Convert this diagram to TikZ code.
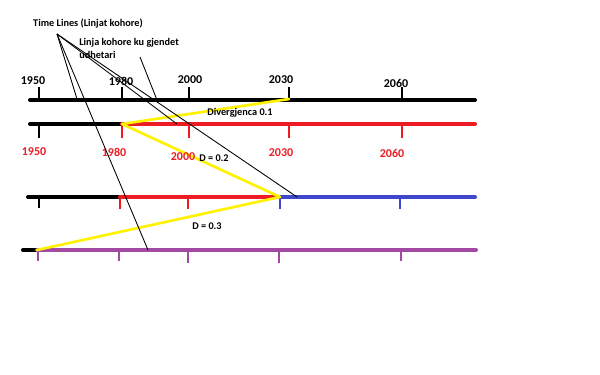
\documentclass[tikz,border=0pt]{standalone}
\usepackage{fontspec}
\setmainfont{Carlito}
\definecolor{pred}{RGB}{237,28,36}
\definecolor{pblue}{RGB}{63,72,204}
\definecolor{ppurple}{RGB}{163,73,164}
\definecolor{pyellow}{RGB}{255,242,0}
\begin{document}
\begin{tikzpicture}[x=0.75pt,y=-0.75pt,
  mainline/.style={line width=3pt,line cap=round},
  tick/.style={line width=2pt},
  yel/.style={pyellow,line width=2pt,line cap=round},
  thin/.style={line width=0.65pt},
  year/.style={font=\bfseries\fontsize{9}{10}\selectfont,inner sep=0pt},
  lbl/.style={font=\bfseries\fontsize{7.7}{10}\selectfont,inner sep=0pt}]
\useasboundingbox[fill=white] (0,0) rectangle (600,375);

% coordinates of the lines
\coordinate (l1s) at (30,100); \coordinate (l1e) at (475,100);
\coordinate (l2s) at (30,124); \coordinate (l2m) at (122,124); \coordinate (l2e) at (475,124);
\coordinate (l3s) at (28,197); \coordinate (l3m) at (120,197); \coordinate (l3b) at (280,197); \coordinate (l3e) at (475,197);
\coordinate (l4s) at (23,250); \coordinate (l4m) at (37,250); \coordinate (l4e) at (476,250);

% timelines
\draw[mainline] (l1s) -- (l1e);
\draw[mainline] (l2s) -- (l2m);
\draw[mainline,pred] (l2m) -- (l2e);
\draw[mainline] (l3s) -- (l3m);
\draw[mainline,pred] (l3m) -- (l3b);
\draw[mainline,pblue] (l3b) -- (l3e);
\draw[mainline] (l4s) -- (l4m);
\draw[mainline,ppurple] (l4m) -- (l4e);

% ticks line 1 (up)
\foreach \x/\n in {39/a,122/b,189/c,289/d,402/e}{
  \coordinate (t1\n) at (\x,100); \coordinate (t1\n u) at (\x,87);
  \draw[tick] (t1\n) -- (t1\n u);}
% ticks line 2 (down)
\coordinate (t2a) at (39,124); \coordinate (t2ad) at (39,138);
\draw[tick] (t2a) -- (t2ad);
\foreach \x/\n in {122/b,189/c,289/d,402/e}{
  \coordinate (t2\n) at (\x,124); \coordinate (t2\n d) at (\x,138);
  \draw[tick,pred] (t2\n) -- (t2\n d);}
% ticks line 3
\coordinate (t3a) at (39,197); \coordinate (t3ad) at (39,208);
\draw[tick] (t3a) -- (t3ad);
\foreach \x/\n/\c in {120/b/pred,188/c/pred,280/d/pblue,400/e/pblue}{
  \coordinate (t3\n) at (\x,197); \coordinate (t3\n d) at (\x,209);
  \draw[tick,\c] (t3\n) -- (t3\n d);}
% ticks line 4
\foreach \x/\n/\l in {38/a/261,119/b/261,188/c/263,279/d/263,401/e/261}{
  \coordinate (t4\n) at (\x,250); \coordinate (t4\n d) at (\x,\l);
  \draw[tick,ppurple] (t4\n) -- (t4\n d);}

% yellow divergence lines
\coordinate (y1e) at (289,99);
\coordinate (apex) at (280,197);
\coordinate (y3e) at (37,250);
\draw[yel] (l2m) -- (y1e);
\draw[yel] (l2m) -- (apex);
\draw[yel] (apex) -- (y3e);

% labels black years
\node[year] (k1950) at (33,81) {1950};
\node[year] (k1980) at (121,81) {1980};
\node[year] (k2000) at (190,80) {2000};
\node[year] (k2030) at (281,80) {2030};
\node[year] (k2060) at (396,83) {2060};
% red years
\node[year,pred] (r1950) at (34,152) {1950};
\node[year,pred] (r1980) at (114,152) {1980};
\node[year,pred] (r2000) at (183,157) {2000};
\node[year,pred] (r2030) at (281,153) {2030};
\node[year,pred] (r2060) at (392,153) {2060};

\node[lbl] (div) at (240,113) {Divergjenca 0.1};
\node[lbl] (d2) at (214,158) {D = 0.2};
\node[lbl] (d3) at (207,226) {D = 0.3};

\node[lbl] (tl) at (88,24) {Time Lines (Linjat kohore)};
\node[lbl,anchor=north west,align=left] (lk) at (79,38) {Linja kohore ku gjendet\\udhetari};

% pointer lines
\coordinate (o) at (57,34);
\coordinate (a1) at (77,99);
\coordinate (a2) at (177,124);
\coordinate (a3) at (297,197);
\coordinate (a4) at (148,250);
\draw[thin] (o) -- (a1);
\draw[thin] (o) -- (a2);
\draw[thin] (o) -- (a3);
\draw[thin] (o) -- (a4);
\coordinate (p1) at (140,57);
\coordinate (p2) at (157,100);
\draw[thin] (p1) -- (p2);
\end{tikzpicture}
\end{document}
